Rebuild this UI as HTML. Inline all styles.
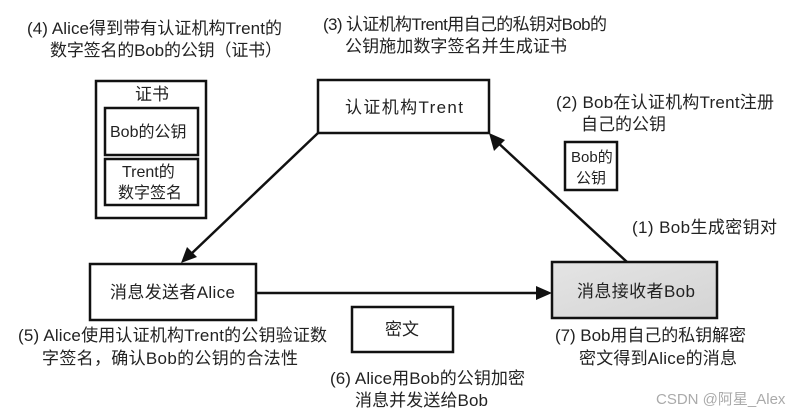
<!DOCTYPE html>
<html><head><meta charset="utf-8"><style>
html,body{margin:0;padding:0;background:#fff;}
svg{display:block;}
text{font-family:"Liberation Sans","Noto Sans CJK SC",sans-serif;font-size:17px;fill:#222;}
</style></head><body>
<svg width="808" height="417" viewBox="0 0 808 417" xmlns="http://www.w3.org/2000/svg">
<defs>
<linearGradient id="g" x1="0" y1="0" x2="1" y2="1"><stop offset="0" stop-color="#e4e4e4"/><stop offset="1" stop-color="#d4d4d4"/></linearGradient>
</defs>
<g stroke="#111" stroke-width="2.5" fill="none">
<rect x="96" y="81" width="110" height="137"/>
<rect x="105" y="108" width="93" height="47"/>
<rect x="105" y="159" width="93" height="46"/>
<rect x="318" y="80" width="171" height="53"/>
<rect x="565" y="142" width="52" height="48"/>
<rect x="90" y="264" width="166" height="56"/>
<rect x="552" y="262" width="165" height="56" fill="url(#g)"/>
<rect x="352" y="307" width="101" height="45"/>
<line x1="318" y1="133" x2="190" y2="255"/>
<line x1="627" y1="262" x2="495" y2="140"/>
<line x1="256" y1="293" x2="540" y2="293"/>
</g>
<g fill="#111">
<polygon points="181,263 187,247 197,257"/>
<polygon points="489,133 505,140 494,151"/>
<polygon points="552,293 536,286 536,300"/>
</g>
<text x="27" y="34" textLength="255">(4) Alice得到带有认证机构Trent的</text>
<text x="50" y="56" textLength="232">数字签名的Bob的公钥（证书）</text>
<text x="323" y="30" textLength="284">(3) 认证机构Trent用自己的私钥对Bob的</text>
<text x="345" y="52" textLength="222">公钥施加数字签名并生成证书</text>
<text x="135" y="100">证书</text>
<text x="110" y="137" style="font-size:16px">Bob的公钥</text>
<text x="122" y="177" style="font-size:16px">Trent的</text>
<text x="118" y="198" style="font-size:16px">数字签名</text>
<text x="345" y="113" textLength="118">认证机构Trent</text>
<text x="556" y="108" textLength="218">(2) Bob在认证机构Trent注册</text>
<text x="581" y="130">自己的公钥</text>
<text x="571" y="162" style="font-size:15px">Bob的</text>
<text x="576" y="183" style="font-size:15px">公钥</text>
<text x="632" y="233" textLength="145">(1) Bob生成密钥对</text>
<text x="110" y="298" textLength="125">消息发送者Alice</text>
<text x="577" y="297" textLength="118">消息接收者Bob</text>
<text x="385" y="335">密文</text>
<text x="18" y="341" textLength="309">(5) Alice使用认证机构Trent的公钥验证数</text>
<text x="42" y="364" textLength="256">字签名，确认Bob的公钥的合法性</text>
<text x="555" y="341" textLength="191">(7) Bob用自己的私钥解密</text>
<text x="579" y="364" textLength="158">密文得到Alice的消息</text>
<text x="330" y="384" textLength="195">(6) Alice用Bob的公钥加密</text>
<text x="355" y="406" textLength="133">消息并发送给Bob</text>
<text x="656" y="404" style="fill:#aaa;font-size:15px">CSDN @阿星_Alex</text>
</svg>
</body></html>
